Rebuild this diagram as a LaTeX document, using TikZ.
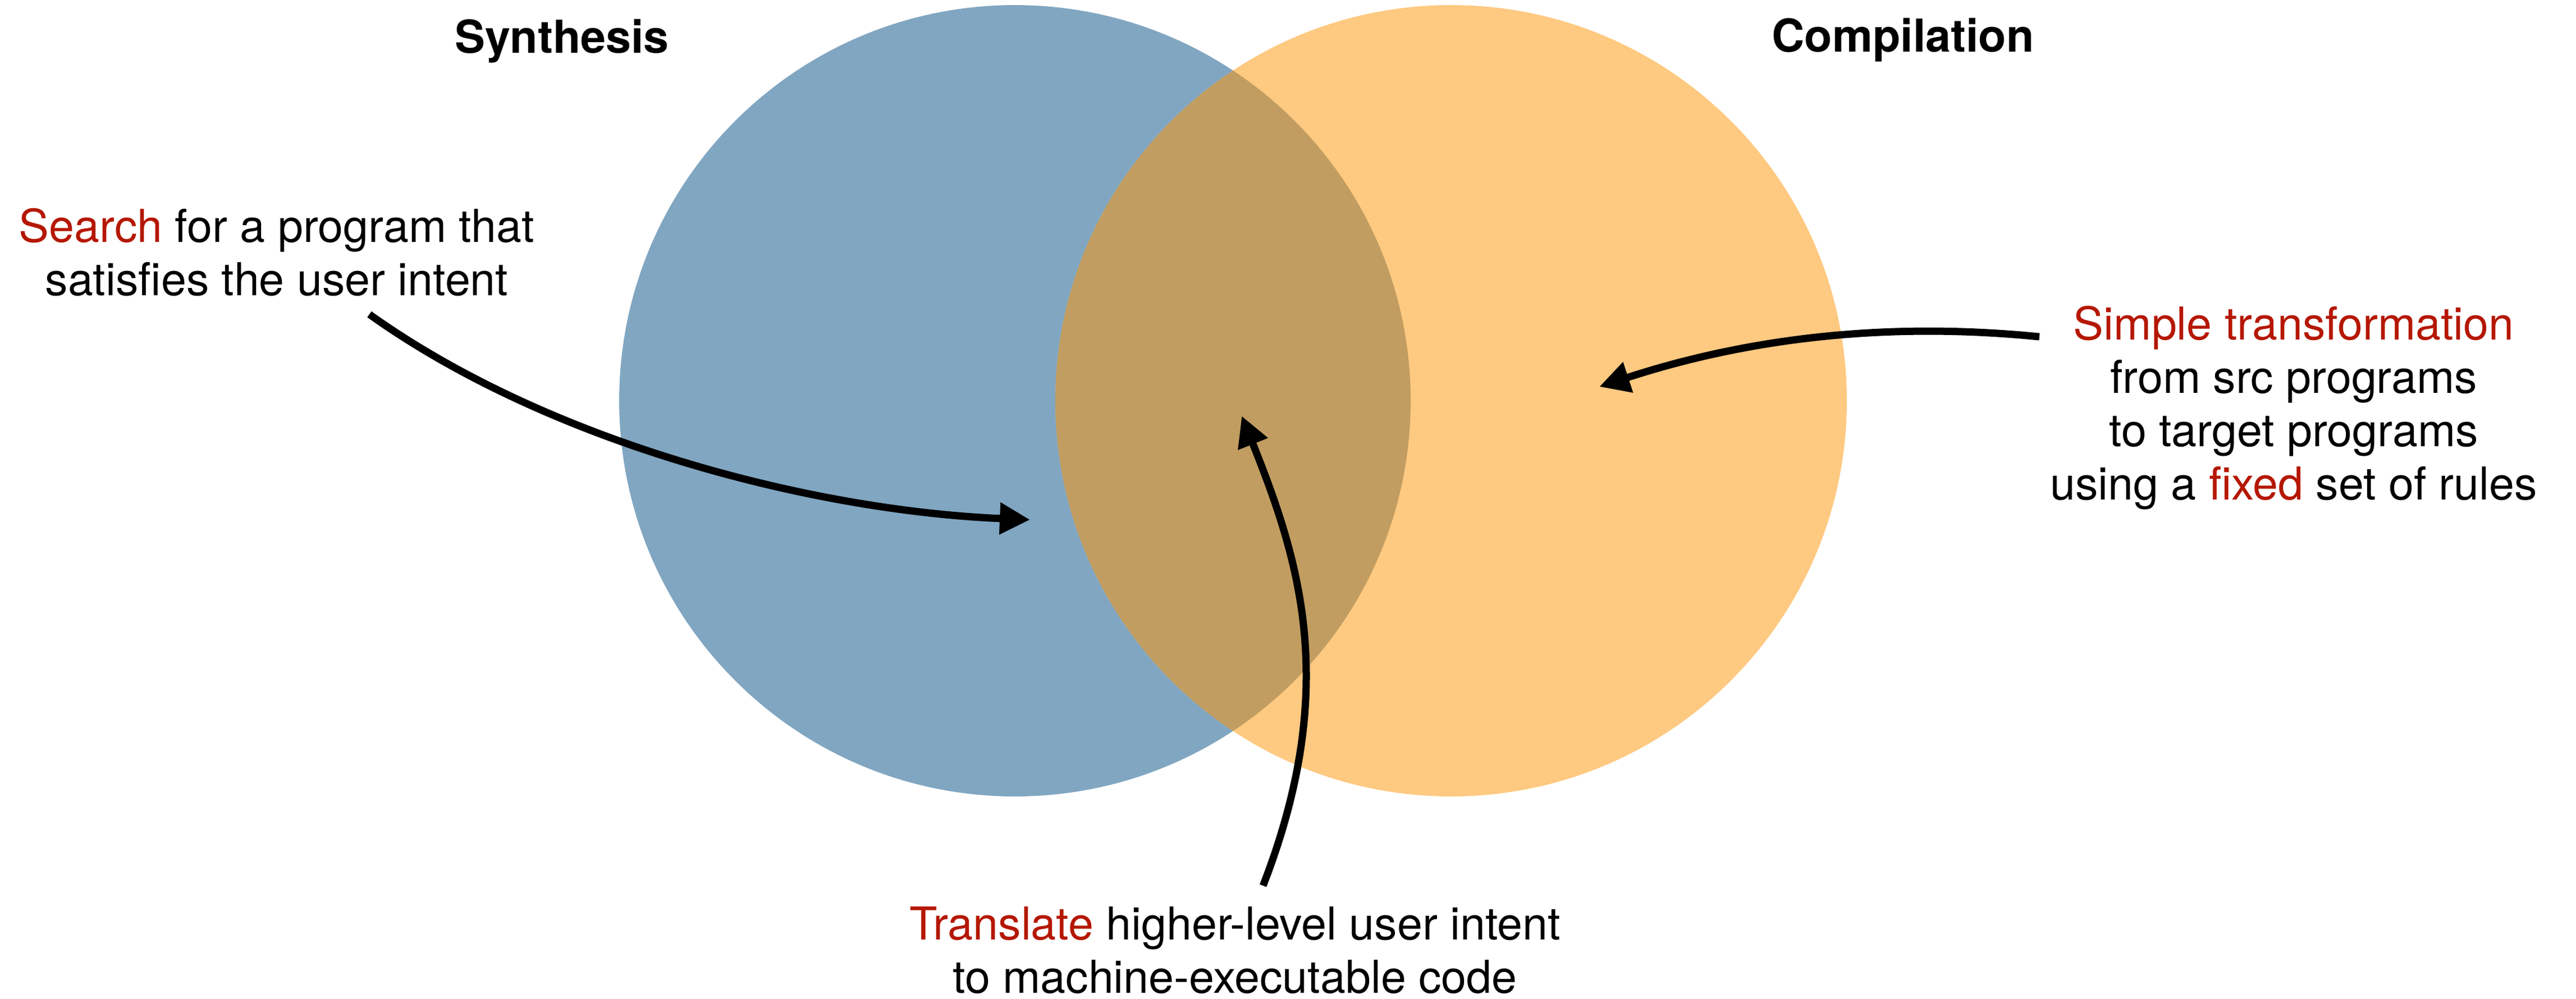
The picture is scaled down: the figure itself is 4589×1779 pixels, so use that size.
\documentclass[tikz,border=0pt]{standalone}
\usepackage{fontspec}
\setmainfont{TeX Gyre Heros}
\usetikzlibrary{arrows.meta}
\definecolor{synblue}{RGB}{129,166,193}
\definecolor{comporange}{RGB}{254,201,128}
\definecolor{overlapc}{RGB}{193,157,97}
\definecolor{hlred}{RGB}{181,23,0}
\begin{document}
\begin{tikzpicture}[x=0.1pt,y=-0.1pt,
  lbl/.style={font=\fontsize{8.08pt}{9.5pt}\selectfont, align=center, inner sep=0pt, anchor=base},
  ttl/.style={font=\fontsize{8.08pt}{9.5pt}\selectfont\bfseries, inner sep=0pt, anchor=base},
  pointer/.style={line width=1.3pt, -{Triangle[length=5.4pt,width=5.4pt]}}]
\useasboundingbox (0,0) rectangle (4589,1779);
% circles
\fill[synblue] (1808,714) circle[radius=70.5pt];
\fill[comporange] (2585,714) circle[radius=70.5pt];
\begin{scope}
  \clip (1808,714) circle[radius=70.5pt];
  \fill[overlapc] (2585,714) circle[radius=70.5pt];
\end{scope}
% titles
\node[ttl] (syn) at (1001,94) {Synthesis};
\node[ttl] (comp) at (3390,92) {Compilation};
% labels (anchor = baseline of last line)
\node[lbl] (search) at (493,526) {\textcolor{hlred}{Search} for a program that\\satisfies the user intent};
\node[lbl] (simple) at (4086,890) {\textcolor{hlred}{Simple transformation}\\from src programs\\to target programs\\using a \textcolor{hlred}{fixed} set of rules};
\node[lbl] (translate) at (2200,1769) {\textcolor{hlred}{Translate} higher-level user intent\\to machine-executable code};
% arrow end points
\coordinate (a1s) at (658,560);
\coordinate (a1e) at (1835,926);
\coordinate (a2s) at (2250,1578);
\coordinate (a2e) at (2212,741);
\coordinate (a3s) at (3633,600);
\coordinate (a3e) at (2849,689);
\draw[pointer] (a1s) .. controls (980,790) and (1450,910) .. (a1e);
\draw[pointer] (a2s) .. controls (2387,1225) and (2316,1001) .. (a2e);
\draw[pointer] (a3s) .. controls (3383,575) and (3134,596) .. (a3e);
\end{tikzpicture}
\end{document}
